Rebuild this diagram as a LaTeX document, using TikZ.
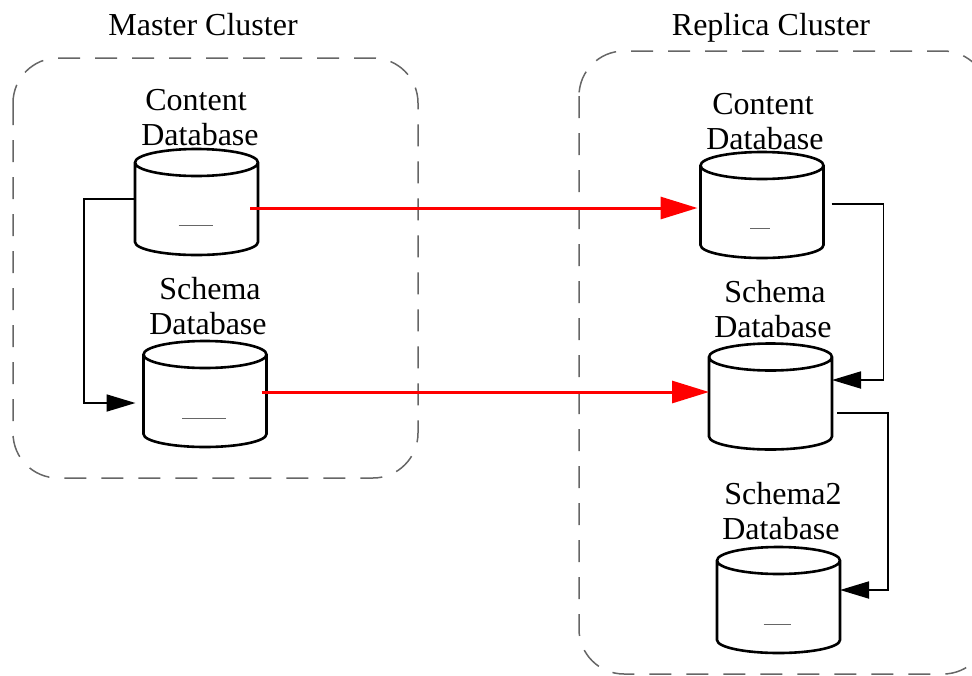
\documentclass[tikz,border=0pt]{standalone}
\usepackage{fontspec}
\setmainfont{Liberation Serif}
\usetikzlibrary{arrows.meta}
\tikzset{
  dbbox/.style={inner sep=0pt, outer sep=0pt, minimum width=123pt, minimum height=106pt},
  dbline/.style={line width=2.6pt, fill=white},
  cluster/.style={draw=black!60, line width=1.5pt, rounded corners=45pt, dash pattern=on 22pt off 15pt},
  dblabel/.style={align=center, inner sep=0pt, font=\fontsize{32}{35}\selectfont},
  link/.style={draw, line width=1.8pt, -{Triangle[length=29pt,width=17pt]}},
  repl/.style={draw=red, line width=3pt, -{Triangle[length=37pt,width=22pt]}},
  seam/.style={line width=0.7pt, black!60},
}
\newcommand{\dbcan}[3]{
\node[dbbox] (#1) at (#2,#3){};
\draw[dbline] ([yshift=-13.5pt]#1.north west) -- ([yshift=13pt]#1.south west) arc[start angle=180, end angle=360, x radius=61.5pt, y radius=13pt] -- ([yshift=-13.5pt]#1.north east) arc[start angle=0, end angle=180, x radius=61.5pt, y radius=13.5pt] arc[start angle=180, end angle=360, x radius=61.5pt, y radius=13.5pt];
}
\begin{document}
\begin{tikzpicture}[x=1pt,y=-1pt]
\useasboundingbox (0,0) rectangle (972,675);
\clip (0,0) rectangle (972,675);
\draw[cluster] (13,58) rectangle (418,478);
\draw[cluster] (579,51) rectangle (988,674);
\dbcan{mContent}{196.5}{202}
\dbcan{mSchema}{205}{394}
\dbcan{rContent}{762}{205}
\dbcan{rSchema}{770.5}{396.5}
\dbcan{rSchemaTwo}{778.5}{600}
\node[dblabel] (mTitle) at (203,25){Master Cluster};
\node[dblabel] (rTitle) at (771,28){Replica Cluster};
\node[dblabel] (mContentLbl) at (200,118){\hspace*{-8pt}Content\\Database};
\node[dblabel] (mSchemaLbl) at (208,306){\hspace*{4pt}Schema\\Database};
\node[dblabel] (rContentLbl) at (765,122){\hspace*{-4pt}Content\\Database};
\node[dblabel] (rSchemaLbl) at (773,309){\hspace*{4pt}Schema\\Database};
\node[dblabel] (rSchemaTwoLbl) at (781,511){\hspace*{4pt}Schema2\\Database};
\draw[seam] ([yshift=30pt,xshift=-18pt]mContent.south) -- ([yshift=30pt,xshift=16pt]mContent.south);
\draw[seam] ([yshift=29pt,xshift=-23pt]mSchema.south) -- ([yshift=29pt,xshift=21pt]mSchema.south);
\draw[seam] ([yshift=30pt,xshift=-12pt]rContent.south) -- ([yshift=30pt,xshift=8pt]rContent.south);
\draw[seam] ([yshift=29pt,xshift=-15pt]rSchemaTwo.south) -- ([yshift=29pt,xshift=12pt]rSchemaTwo.south);
\draw[link] ([yshift=3pt]mContent.west) -- ++(-51,0) |- ([xshift=-8pt,yshift=-9pt]mSchema.west);
\draw[link] ([xshift=8pt,yshift=1pt]rContent.east) -- ++(52,0) |- ([yshift=16.5pt]rSchema.east);
\draw[link] ([xshift=5pt,yshift=-16.5pt]rSchema.east) -- ++(51,0) |- ([yshift=10pt]rSchemaTwo.east);
\draw[repl] ([xshift=-8pt,yshift=-6pt]mContent.east) -- ([xshift=-3pt,yshift=-3pt]rContent.west);
\draw[repl] ([xshift=-5pt,yshift=2pt]mSchema.east) -- ([yshift=4.5pt]rSchema.west);
\end{tikzpicture}
\end{document}
